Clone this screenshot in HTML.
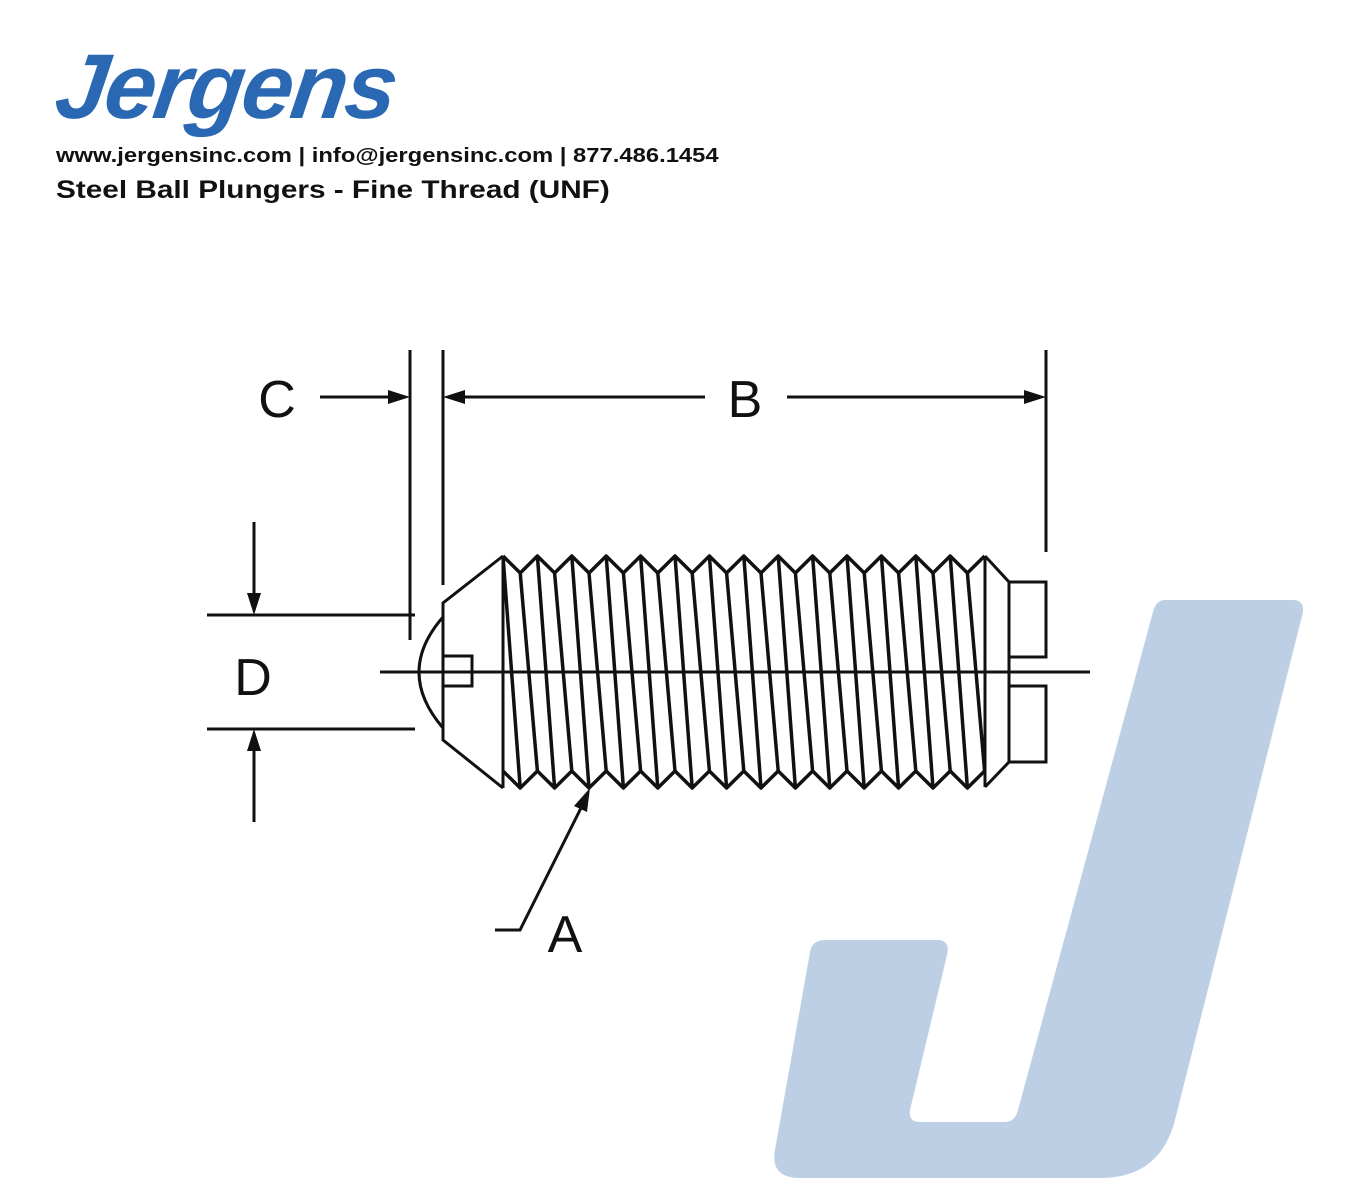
<!DOCTYPE html>
<html><head><style>
body{margin:0;width:1360px;height:1200px;background:#fff;overflow:hidden;position:relative;font-family:"Liberation Sans",sans-serif}
.logo{position:absolute;left:64px;top:35px;font-size:92px;font-weight:bold;font-style:italic;color:#2b68b3;letter-spacing:-2px;transform:scaleX(1.0) skewX(-8deg);transform-origin:left top}
.l1{position:absolute;left:56px;top:145px;font-size:20px;font-weight:bold;color:#111;transform:scaleX(1.19);transform-origin:left top;white-space:nowrap}
.l2{position:absolute;left:56px;top:176px;font-size:25px;font-weight:bold;color:#111;transform:scaleX(1.19);transform-origin:left top;white-space:nowrap}
svg{position:absolute;left:0;top:0}
</style></head><body>
<svg width="1360" height="1200">
<path d="M1165 600 L1295 600 Q1306 602 1302 616 L1175 1120 Q1160 1178 1100 1178 L800 1178 Q770 1178 775 1150 L810 952 Q812 940 825 940 L940 940 Q950 942 947 955 L910 1110 Q908 1122 920 1122 L1005 1122 Q1015 1122 1018 1110 L1153 612 Q1156 600 1165 600 Z" fill="#bccfe5"/>
<g stroke="#111" stroke-width="3" fill="none">
<line x1="410" y1="350" x2="410" y2="640"/><line x1="443" y1="350" x2="443" y2="585"/><line x1="1046" y1="350" x2="1046" y2="552"/>
<line x1="320" y1="397" x2="400" y2="397"/><line x1="450" y1="397" x2="705" y2="397"/><line x1="787" y1="397" x2="1036" y2="397"/>
<line x1="207" y1="615" x2="415" y2="615"/><line x1="207" y1="729" x2="415" y2="729"/>
<line x1="254" y1="522" x2="254" y2="605"/><line x1="254" y1="740" x2="254" y2="822"/>
<polyline points="495,930 520,930 585,800"/>
<line x1="380" y1="672" x2="1090" y2="672"/>
<path d="M443 617 Q395 672 443 728"/>
<polyline points="443,656 472,656 472,686 443,686"/>
<polyline points="503,556 443,603 443,740 503,788"/>
<line x1="503" y1="556" x2="503" y2="788"/>
<polyline points="985,556 1009,582 1009,762 985,787"/>
<line x1="985" y1="556" x2="985" y2="787"/>
<polyline points="1009,582 1046,582 1046,657 1009,657"/>
<polyline points="1009,686 1046,686 1046,762 1009,762"/>
</g>
<g stroke="#111" stroke-width="3.5" fill="none" stroke-linejoin="round">
<path d="M503 556 L520.2 573 L537.4 556 L554.6 573 L571.8 556 L589 573 L606.2 556 L623.4 573 L640.6 556 L657.8 573 L675 556 L692.2 573 L709.4 556 L726.6 573 L743.8 556 L761 573 L778.2 556 L795.4 573 L812.6 556 L829.8 573 L847 556 L864.2 573 L881.4 556 L898.6 573 L915.8 556 L933 573 L950.2 556 L967.4 573 L984.6 556"/>
<path d="M503 771 L520.2 788 L537.4 771 L554.6 788 L571.8 771 L589 788 L606.2 771 L623.4 788 L640.6 771 L657.8 788 L675 771 L692.2 788 L709.4 771 L726.6 788 L743.8 771 L761 788 L778.2 771 L795.4 788 L812.6 771 L829.8 788 L847 771 L864.2 788 L881.4 771 L898.6 788 L915.8 771 L933 788 L950.2 771 L967.4 788 L984.6 771"/>
<path d="M503 556 L520.2 788 M520.2 573 L537.4 771 M537.4 556 L554.6 788 M554.6 573 L571.8 771 M571.8 556 L589 788 M589 573 L606.2 771 M606.2 556 L623.4 788 M623.4 573 L640.6 771 M640.6 556 L657.8 788 M657.8 573 L675 771 M675 556 L692.2 788 M692.2 573 L709.4 771 M709.4 556 L726.6 788 M726.6 573 L743.8 771 M743.8 556 L761 788 M761 573 L778.2 771 M778.2 556 L795.4 788 M795.4 573 L812.6 771 M812.6 556 L829.8 788 M829.8 573 L847 771 M847 556 L864.2 788 M864.2 573 L881.4 771 M881.4 556 L898.6 788 M898.6 573 L915.8 771 M915.8 556 L933 788 M933 573 L950.2 771 M950.2 556 L967.4 788 M967.4 573 L984.6 771"/>
</g>
<g fill="#111">
<polygon points="410,397 388,390 388,404"/><polygon points="443,397 465,390 465,404"/><polygon points="1046,397 1024,390 1024,404"/>
<polygon points="254,615 247,593 261,593"/><polygon points="254,729 247,751 261,751"/>
<polygon points="590,788 574,806 587,812"/>
</g>
<g font-family="Liberation Sans,sans-serif" font-size="52" fill="#111" text-anchor="middle">
<text x="277" y="417">C</text><text x="745" y="417">B</text><text x="253" y="695">D</text><text x="565" y="952">A</text>
</g>
</svg>
<div class="logo">Jergens</div>
<div class="l1">www.jergensinc.com | info@jergensinc.com | 877.486.1454</div>
<div class="l2">Steel Ball Plungers - Fine Thread (UNF)</div>
</body></html>
